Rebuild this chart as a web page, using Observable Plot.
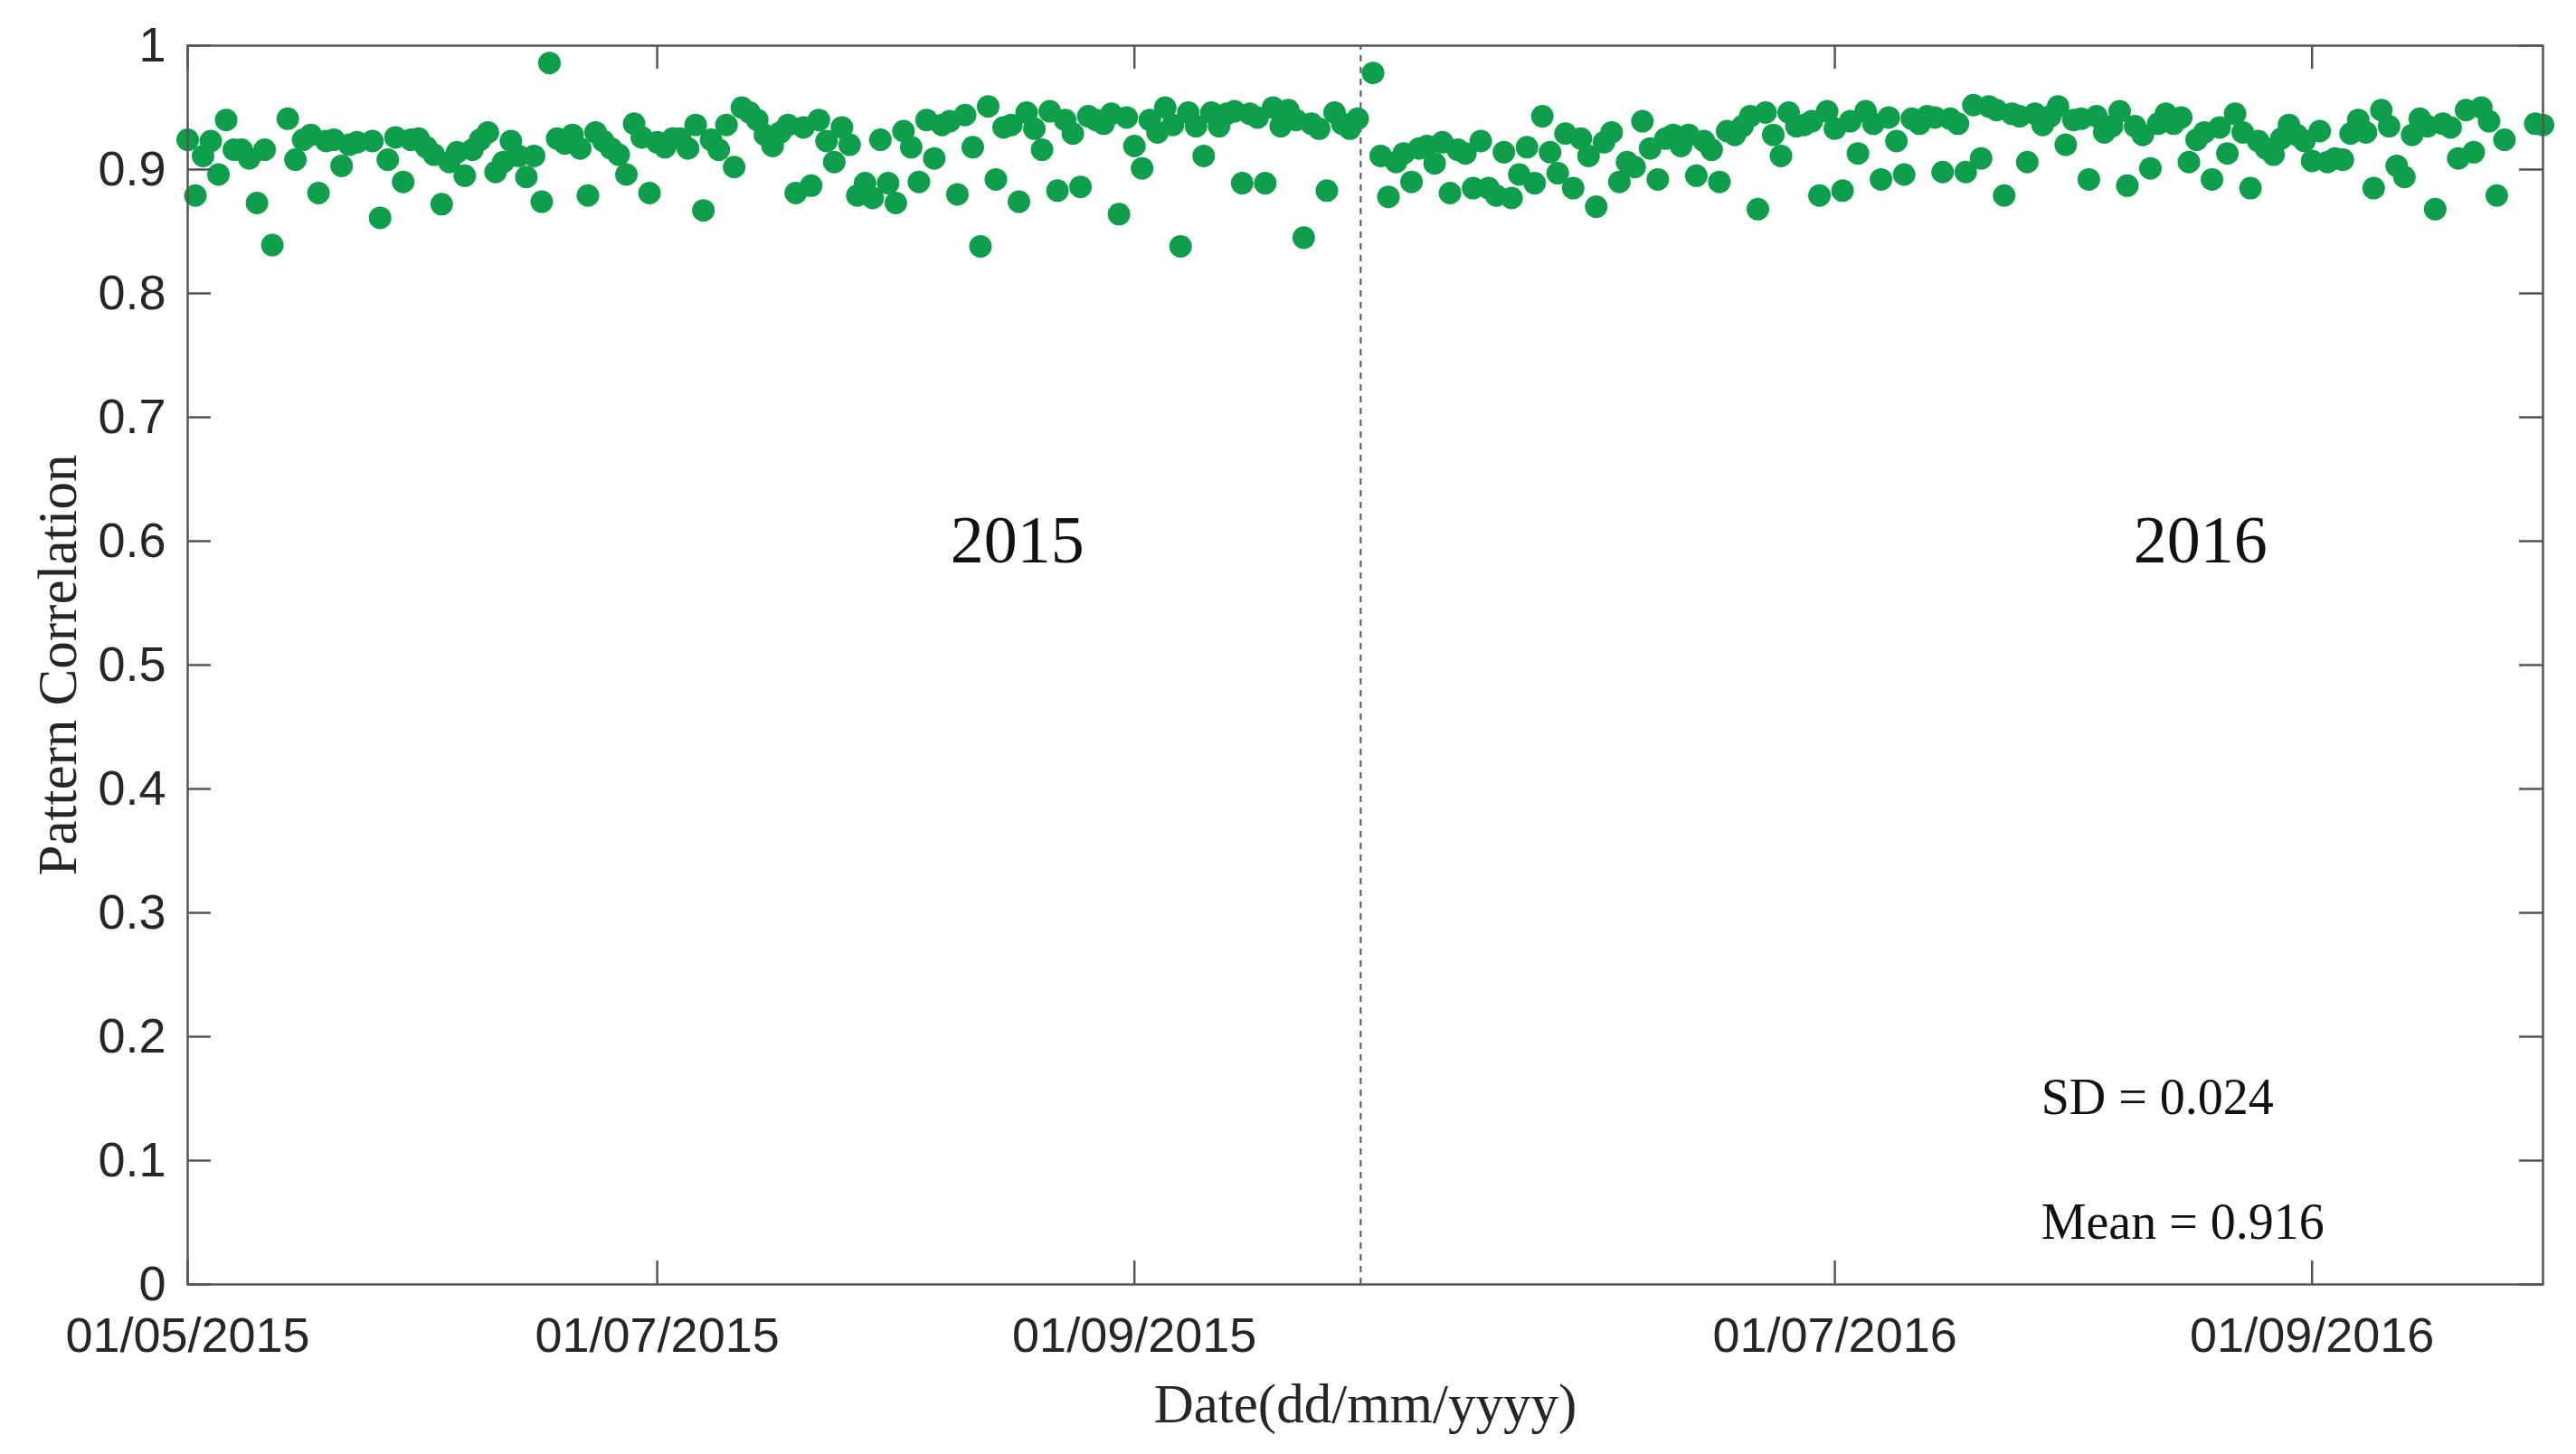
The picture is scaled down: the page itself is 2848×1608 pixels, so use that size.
<!DOCTYPE html>
<html><head><meta charset="utf-8">
<script src="https://cdn.jsdelivr.net/npm/d3@7"></script>
<script src="https://cdn.jsdelivr.net/npm/@observablehq/plot@0.6"></script>
<style>html,body{margin:0;padding:0;background:#fff;overflow:hidden;} svg{display:block;}</style>
</head><body><div id="chart"></div>
<script>
// Day offsets since 1 May of each year, and pattern correlation values
const days2015 = [0,1,2,3,4,5,6,7,8,9,10,11,13,14,15,16,17,18,19,20,21,22,24,25,26,27,28,29,30,31,32,33,34,35,36,37,38,39,40,41,42,43,44,45,46,47,48,49,50,51,52,53,54,55,56,57,58,59,60,61,62,63,64,65,66,67,68,69,70,71,72,73,74,75,76,77,78,79,80,81,82,83,84,85,86,87,88,89,90,91,92,93,94,95,96,97,98,99,100,101,102,103,104,105,106,107,108,109,110,111,112,113,114,115,116,117,118,119,120,121,122,123,124,125,126,127,128,129,130,131,132,133,134,135,136,137,138,139,140,141,142,143,144,145,146,147,148,149,150,151,152];
const corr2015 = [0.924,0.879,0.911,0.923,0.896,0.940,0.916,0.916,0.909,0.873,0.916,0.839,
0.941,0.908,0.924,0.928,0.881,0.923,0.924,0.903,0.920,0.922,
0.923,0.861,0.908,0.926,0.890,0.924,0.925,0.918,0.912,0.872,0.906,0.914,0.895,0.916,0.924,0.930,0.898,0.906,0.923,0.911,0.894,0.911,0.874,0.986,0.925,0.921,0.928,0.917,0.879,0.930,0.923,0.917,0.912,0.896,0.937,0.926,0.881,0.922,0.918,0.925,0.925,0.917,0.936,0.867,0.924,0.916,0.936,0.902,0.950,0.946,0.940,0.928,0.919,0.930,0.936,0.881,0.934,0.887,0.940,0.923,0.906,0.934,0.920,0.879,0.889,0.877,0.924,0.889,0.873,0.931,0.918,0.890,0.940,0.909,0.936,0.939,0.880,0.944,0.918,0.838,0.951,0.892,0.934,0.936,0.874,0.946,0.933,0.916,0.947,0.883,0.940,0.929,0.886,0.943,0.940,0.937,0.945,0.864,0.942,0.919,0.901,0.940,0.930,0.950,0.936,0.838,0.946,0.935,0.911,0.946,0.935,0.945,0.947,0.889,0.945,0.942,0.889,0.950,0.935,0.948,0.940,0.845,0.937,0.933,0.883,0.946,0.937,0.933,0.941];
const days2016 = [1,2,3,4,5,6,7,8,9,10,11,12,13,14,15,16,17,18,19,20,21,22,23,24,25,26,27,28,29,30,31,32,33,34,35,36,37,38,39,40,41,42,43,44,45,46,47,48,49,50,51,52,53,54,55,56,57,58,59,60,61,62,63,64,65,66,67,68,69,70,71,72,73,74,75,76,77,78,79,80,81,82,83,84,85,86,87,88,89,90,91,92,93,94,95,96,97,98,99,100,101,102,103,104,105,106,107,108,109,110,111,112,113,114,115,116,117,118,119,120,121,122,123,124,125,126,127,128,129,130,131,132,133,134,135,136,137,138,139,140,141,142,143,144,145,146,147,148,152,153];
const corr2016 = [0.978,0.911,0.878,0.906,0.913,0.890,0.917,0.919,0.905,0.922,0.881,0.916,0.913,0.885,0.923,0.885,0.879,0.914,0.877,0.896,0.918,0.889,0.943,0.914,0.897,0.929,0.885,0.925,0.911,0.870,0.922,0.930,0.890,0.906,0.902,0.939,0.917,0.892,0.925,0.928,0.919,0.928,0.895,0.923,0.916,0.890,0.931,0.928,0.935,0.943,0.868,0.946,0.928,0.911,0.946,0.935,0.936,0.939,0.879,0.947,0.933,0.883,0.939,0.913,0.947,0.937,0.892,0.942,0.923,0.896,0.941,0.937,0.943,0.942,0.898,0.941,0.937,0.898,0.952,0.909,0.951,0.948,0.879,0.945,0.943,0.906,0.945,0.936,0.943,0.951,0.920,0.940,0.941,0.892,0.943,0.930,0.935,0.947,0.887,0.935,0.928,0.901,0.937,0.945,0.937,0.942,0.906,0.924,0.930,0.892,0.934,0.913,0.945,0.930,0.885,0.923,0.917,0.912,0.925,0.936,0.928,0.923,0.907,0.931,0.906,0.909,0.908,0.929,0.940,0.930,0.885,0.948,0.935,0.903,0.894,0.928,0.941,0.935,0.868,0.937,0.934,0.909,0.948,0.914,0.950,0.939,0.879,0.924,0.937,0.936];

// Axis (concatenated seasons: 1 May–30 Sep 2015, then 1 May–30 Sep 2016)
const season2016Start = 153;
const axisEnd = 306;
const seasonBreak = 152.4;
const xTickDays = [0, 61, 123, 214, 276];
const xTickLabels = ["01/05/2015","01/07/2015","01/09/2015","01/07/2016","01/09/2016"];
const yTicks = [0,0.1,0.2,0.3,0.4,0.5,0.6,0.7,0.8,0.9,1];
const yTickLabels = ["0","0.1","0.2","0.3","0.4","0.5","0.6","0.7","0.8","0.9","1"];
const yearLabels = ["2015","2016"];
const statLabels = ["SD = 0.024","Mean = 0.916"];

const points = [
  ...days2015.map((d,i) => ({x: d, y: corr2015[i]})),
  ...days2016.map((d,i) => ({x: season2016Start + d, y: corr2016[i]}))
];

const W = 2848, H = 1608;
const mL = 207, mR = 37, mT = 50, mB = 188;
const tickPx = 26;
const tickX = tickPx * axisEnd / (W - mL - mR);
const tickY = tickPx / (H - mT - mB);
const sans = "'Liberation Sans', Arial, sans-serif";
const serif = "'Liberation Serif', 'Times New Roman', serif";
const ink = "#262626";

const yearPos = [{x: 107.8, y: 0.6}, {x: 261.5, y: 0.6}];
const statPos = [{x: 240.8, y: 0.151}, {x: 240.8, y: 0.050}];

const chart = Plot.plot({
  width: W, height: H,
  marginLeft: mL, marginRight: mR, marginTop: mT, marginBottom: mB,
  x: {domain: [0, axisEnd]},
  y: {domain: [0, 1]},
  style: {background: "#fff", fontFamily: sans},
  marks: [
    Plot.ruleX([seasonBreak], {y1: 0, y2: 1, stroke: "#555", strokeWidth: 2, strokeDasharray: "7,6"}),
    Plot.dot(points, {x: "x", y: "y", r: 12.5, fill: "#0f9f4c", stroke: "none"}),
    Plot.frame({stroke: "#555", strokeWidth: 2.5}),
    Plot.ruleX(xTickDays, {y1: 0, y2: tickY, stroke: "#555", strokeWidth: 2.5}),
    Plot.ruleX(xTickDays, {y1: 1, y2: 1 - tickY, stroke: "#555", strokeWidth: 2.5}),
    Plot.ruleY(yTicks, {x1: 0, x2: tickX, stroke: "#555", strokeWidth: 2.5}),
    Plot.ruleY(yTicks, {x1: axisEnd, x2: axisEnd - tickX, stroke: "#555", strokeWidth: 2.5}),
    Plot.axisX(xTickDays, {tickSize: 0, tickPadding: 36, tickFormat: d => xTickLabels[xTickDays.indexOf(d)], fontSize: 54, fill: ink, label: null, fontFamily: sans}),
    Plot.axisY(yTicks, {tickSize: 0, tickPadding: 24, tickFormat: d => yTickLabels[yTicks.indexOf(d)], fontSize: 54, fill: ink, label: null, fontFamily: sans}),
    Plot.text(["Pattern Correlation"], {frameAnchor: "left", rotate: -90, dx: -143, textAnchor: "middle", lineAnchor: "middle", fontSize: 61, fontFamily: serif, fill: ink}),
    Plot.text(["Date(dd/mm/yyyy)"], {frameAnchor: "bottom", dy: 133, textAnchor: "middle", lineAnchor: "middle", fontSize: 61, fontFamily: serif, fill: ink}),
    Plot.text(yearLabels, {x: yearPos.map(p => p.x), y: yearPos.map(p => p.y), textAnchor: "middle", lineAnchor: "middle", fontSize: 74, fontFamily: serif, fill: "#111"}),
    Plot.text(statLabels, {x: statPos.map(p => p.x), y: statPos.map(p => p.y), textAnchor: "start", lineAnchor: "middle", fontSize: 56, fontFamily: serif, fill: "#111"})
  ]
});
document.getElementById("chart").appendChild(chart);
</script>
</body></html>
